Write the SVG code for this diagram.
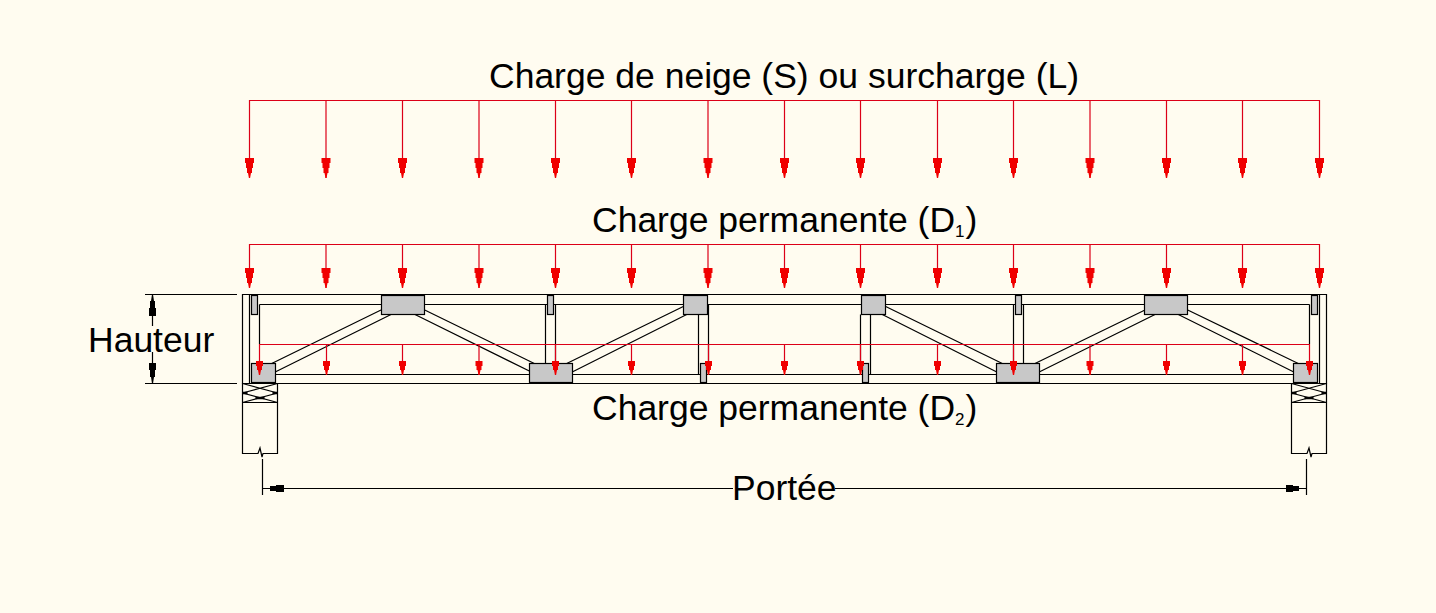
<svg xmlns="http://www.w3.org/2000/svg" width="1436" height="613" viewBox="0 0 1436 613">
<style>
.l{fill:none;stroke:#000;stroke-width:1.2}
.r{fill:none;stroke:#dc0018;stroke-width:1.2}
.g{fill:#c8c8c8;stroke:#000;stroke-width:1.2}
.t{font-family:"Liberation Sans",Arial,sans-serif;font-size:35.500px;fill:#000}
.s{font-size:17px}
</style>
<defs>
<path id="a1" d="M-4.500 -20H4.500V-15H3.500V-10H2.500V-5H1.500L0.500 0H-0.500L-1.500 -5H-2.500V-10H-3.500V-15H-4.500Z" fill="#f00000"/>
<path id="a2" d="M-3.500 -14H3.500V-9H2.500V-5H1.500L0.500 0H-0.500L-1.500 -5H-2.500V-9H-3.500Z" fill="#f00000"/>
<path id="x" d="M0 0H35M0 19H35M0 0L35 9.500M0 9.500L35 0M0 9.500L35 19M0 19L35 9.500"/>
<path id="xb" d="M0 9.500H5M30 9.500H35M13 14.500H22" stroke-width="2.500"/>
</defs>
<rect width="1436" height="613" fill="#fffcf0"/>
<g id="truss">
<path class="l" d="M242.500 294.500H1326.500V383.500H242.500ZM249.500 294.500V383.500M1319.500 294.500V383.500M259.500 304.500H1309.500M259.500 304.500V344M1309.500 304.500V344M262 374.500H1308"/>
<path class="l" d="M381 310L271.700 363.500M391 314.500L275.700 371.700M424.700 310L534.300 363.500M415 314.500L529.300 371M566.700 363.500L683.300 306.500M572.700 371.700L686.700 314.500M885.700 306.500L1002.300 363.500M882.300 314.500L996.300 371.700M1035 363.500L1145 310M1039.700 371.700L1155 314.500M1187.700 310L1298.300 363.500M1178.300 314.500L1293.300 371.700"/>
<path class="l" d="M545.500 304.500V363.500M555.500 304.500V363.500M698.500 314.500V374.500M708.500 304.500V374.500M860.500 314.500V374.500M870.500 314.500V374.500M1013.500 304.500V363.500M1023.500 304.500V363.500"/>
</g>
<g id="gussets">
<rect class="g" x="251.500" y="295.500" width="6" height="19"/>
<rect class="g" x="381.500" y="295.500" width="43" height="19"/>
<rect class="g" x="547.500" y="295.500" width="6" height="19"/>
<rect class="g" x="683.500" y="295.500" width="24" height="19"/>
<rect class="g" x="861.500" y="295.500" width="24" height="19"/>
<rect class="g" x="1015.500" y="295.500" width="6" height="19"/>
<rect class="g" x="1144.500" y="295.500" width="43" height="19"/>
<rect class="g" x="1311.500" y="295.500" width="6" height="19"/>
<rect class="g" x="251.500" y="363.500" width="24" height="19"/>
<rect class="g" x="529.500" y="363.500" width="43" height="19"/>
<rect class="g" x="700.500" y="363.500" width="6" height="19"/>
<rect class="g" x="862.500" y="363.500" width="6" height="19"/>
<rect class="g" x="996.500" y="363.500" width="43" height="19"/>
<rect class="g" x="1293.500" y="363.500" width="24" height="19"/>
</g>
<g id="bearing-left">
<path class="l" d="M242.500 383.500V453.500H258L260 448L262 457L263 453.500H277.500V383.500"/>
<use href="#x" class="l" x="242.500" y="383.500"/>
<use href="#xb" stroke="#000" x="242.500" y="383.500"/>
</g>
<g id="bearing-right">
<path class="l" d="M1291.500 383.500V453.500H1307L1309 448L1311 457L1312 453.500H1326.500V383.500"/>
<use href="#x" class="l" x="1291.500" y="383.500"/>
<use href="#xb" stroke="#000" x="1291.500" y="383.500"/>
</g>
<g id="connectors">
<path class="r" d="M249.500 178V100.500H1319.500V178M326 100.500V178M402.500 100.500V178M479 100.500V178M555.500 100.500V178M631.500 100.500V178M708 100.500V178M784.500 100.500V178M860.500 100.500V178M937.500 100.500V178M1013.500 100.500V178M1090 100.500V178M1166.500 100.500V178M1242.500 100.500V178"/>
<path class="r" d="M249.500 288V244.500H1319.500V288M326 244.500V288M402.500 244.500V288M479 244.500V288M555.500 244.500V288M631.500 244.500V288M708 244.500V288M784.500 244.500V288M860.500 244.500V288M937.500 244.500V288M1013.500 244.500V288M1090 244.500V288M1166.500 244.500V288M1242.500 244.500V288"/>
<path class="r" d="M259.500 375V344.500H1309.500V375M326.500 344.500V375M402.500 344.500V375M479 344.500V375M555.500 344.500V375M631.500 344.500V375M708.500 344.500V375M784.500 344.500V375M860.500 344.500V375M937.500 344.500V375M1013.500 344.500V375M1090 344.500V375M1166.500 344.500V375M1242.500 344.500V375"/>
<g>
<use href="#a1" x="249.500" y="178"/><use href="#a1" x="326" y="178"/><use href="#a1" x="402.500" y="178"/><use href="#a1" x="479" y="178"/><use href="#a1" x="555.500" y="178"/><use href="#a1" x="631.500" y="178"/><use href="#a1" x="708" y="178"/><use href="#a1" x="784.500" y="178"/><use href="#a1" x="860.500" y="178"/><use href="#a1" x="937.500" y="178"/><use href="#a1" x="1013.500" y="178"/><use href="#a1" x="1090" y="178"/><use href="#a1" x="1166.500" y="178"/><use href="#a1" x="1242.500" y="178"/><use href="#a1" x="1319.500" y="178"/>
<use href="#a1" x="249.500" y="288"/><use href="#a1" x="326" y="288"/><use href="#a1" x="402.500" y="288"/><use href="#a1" x="479" y="288"/><use href="#a1" x="555.500" y="288"/><use href="#a1" x="631.500" y="288"/><use href="#a1" x="708" y="288"/><use href="#a1" x="784.500" y="288"/><use href="#a1" x="860.500" y="288"/><use href="#a1" x="937.500" y="288"/><use href="#a1" x="1013.500" y="288"/><use href="#a1" x="1090" y="288"/><use href="#a1" x="1166.500" y="288"/><use href="#a1" x="1242.500" y="288"/><use href="#a1" x="1319.500" y="288"/>
<use href="#a2" x="259.500" y="375"/><use href="#a2" x="326.500" y="375"/><use href="#a2" x="402.500" y="375"/><use href="#a2" x="479" y="375"/><use href="#a2" x="555.500" y="375"/><use href="#a2" x="631.500" y="375"/><use href="#a2" x="708.500" y="375"/><use href="#a2" x="784.500" y="375"/><use href="#a2" x="860.500" y="375"/><use href="#a2" x="937.500" y="375"/><use href="#a2" x="1013.500" y="375"/><use href="#a2" x="1090" y="375"/><use href="#a2" x="1166.500" y="375"/><use href="#a2" x="1242.500" y="375"/><use href="#a2" x="1309.500" y="375"/>
</g>
<path class="l" d="M145 294.500H237M145 383.500H237M152.500 294.500V326M152.500 352V383.500M262.500 459V495M1306.500 459V495M262.500 488.500H733M835 488.500H1306.500"/>
<path d="M152 295H153L154 301H155V308H156V316H149V308H150V301H151ZM152 383H153L154 377H155V370H156V363H149V370H150V377H151ZM263 488H270V486H276V485H284V492H276V491H270V489H263ZM1306 488H1299V486H1293V485H1286V492H1293V491H1299V489H1306Z"/>
</g>
<g id="labels">
<text class="t" x="489" y="88">Charge de neige (S) ou surcharge (L)</text>
<text class="t" x="592" y="232">Charge permanente (D<tspan class="s" dy="5">1</tspan><tspan dy="-5" dx="1">)</tspan></text>
<text class="t" x="592" y="420">Charge permanente (D<tspan class="s" dy="5">2</tspan><tspan dy="-5" dx="1">)</tspan></text>
<text class="t" x="88" y="352">Hauteur</text>
<text class="t" x="732" y="500">Portée</text>
</g>
</svg>
